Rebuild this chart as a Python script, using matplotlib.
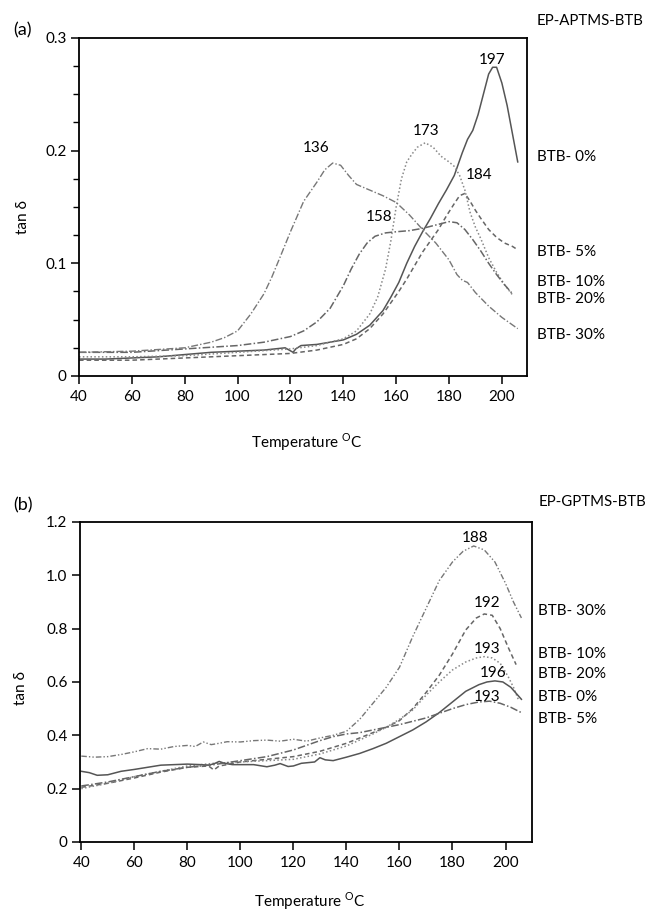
import matplotlib
matplotlib.use("Agg")
import matplotlib.pyplot as plt
import matplotlib.transforms as mtransforms

plt.rcParams["font.family"] = ["Lato", "DejaVu Sans"]
plt.rcParams["mathtext.fontset"] = "custom"
plt.rcParams["mathtext.rm"] = "Lato"

# ---- panel (a): EP-APTMS-BTB ----
a_x0 = [40, 50, 60, 70, 80, 90, 100, 110, 118, 121, 122, 124, 130, 140, 145, 150, 155, 158,
        161, 164, 167, 170, 173, 176, 179, 182, 185, 187, 189, 191, 193, 195, 196.5, 198,
        200, 202, 204, 206]
a_y0 = [0.015, 0.015, 0.016, 0.017, 0.019, 0.021, 0.022, 0.023, 0.025, 0.021, 0.024, 0.027,
        0.028, 0.032, 0.037, 0.045, 0.058, 0.070, 0.083, 0.100, 0.115, 0.128, 0.140, 0.153,
        0.165, 0.178, 0.198, 0.210, 0.218, 0.232, 0.250, 0.268, 0.274, 0.274, 0.260, 0.240,
        0.215, 0.190]

a_x5 = [40, 60, 80, 100, 120, 130, 140, 145, 150, 155, 158, 161, 164, 167, 170, 173, 176, 179,
        182, 184, 186, 188, 190, 192, 195, 198, 201, 204, 206]
a_y5 = [0.014, 0.014, 0.016, 0.018, 0.020, 0.023, 0.028, 0.033, 0.042, 0.055, 0.065, 0.075,
        0.086, 0.098, 0.110, 0.120, 0.130, 0.142, 0.153, 0.160, 0.162, 0.155, 0.147, 0.140,
        0.130, 0.123, 0.118, 0.115, 0.112]

a_x10 = [40, 60, 80, 100, 120, 130, 140, 145, 150, 153, 156, 158, 160, 162, 164, 166, 168, 171,
         174, 177, 180, 182, 184, 186, 188, 190, 192, 195, 198, 201, 204]
a_y10 = [0.017, 0.017, 0.018, 0.021, 0.024, 0.027, 0.033, 0.040, 0.055, 0.070, 0.095, 0.120,
         0.150, 0.175, 0.190, 0.197, 0.203, 0.207, 0.203, 0.195, 0.190, 0.186, 0.178, 0.165,
         0.145, 0.132, 0.122, 0.105, 0.092, 0.081, 0.072]

a_x20 = [40, 60, 80, 100, 110, 120, 125, 130, 135, 140, 143, 146, 149, 152, 156, 160, 165, 170,
         175, 180, 183, 186, 189, 192, 195, 198, 201, 204]
a_y20 = [0.021, 0.021, 0.024, 0.027, 0.030, 0.035, 0.040, 0.048, 0.060, 0.080, 0.095, 0.108,
         0.118, 0.124, 0.127, 0.128, 0.129, 0.131, 0.134, 0.137, 0.136, 0.130, 0.121, 0.111,
         0.100, 0.090, 0.081, 0.073]

a_x30 = [40, 60, 80, 90, 95, 100, 105, 110, 113, 116, 120, 125, 130, 133, 136, 139, 142, 145,
         150, 155, 160, 165, 170, 175, 180, 183, 185, 187, 190, 195, 200, 206]
a_y30 = [0.021, 0.022, 0.025, 0.030, 0.034, 0.040, 0.055, 0.073, 0.088, 0.105, 0.128, 0.155,
         0.172, 0.183, 0.189, 0.187, 0.178, 0.170, 0.165, 0.160, 0.154, 0.143, 0.130, 0.118,
         0.103, 0.090, 0.085, 0.083, 0.074, 0.062, 0.052, 0.042]

# ---- panel (b): EP-GPTMS-BTB ----
b_x0 = [40, 43, 46, 50, 55, 60, 65, 70, 75, 80, 85, 88, 90, 92, 94, 97, 100, 105, 110, 113,
        115, 118, 120, 123, 126, 128, 130, 132, 135, 140, 145, 150, 155, 160, 165, 170, 175,
        180, 185, 190, 193, 196, 199, 202, 206]
b_y0 = [0.265, 0.260, 0.250, 0.252, 0.265, 0.272, 0.280, 0.288, 0.290, 0.292, 0.290, 0.288,
        0.293, 0.302, 0.295, 0.290, 0.290, 0.290, 0.282, 0.288, 0.294, 0.283, 0.285, 0.295,
        0.298, 0.300, 0.316, 0.308, 0.305, 0.318, 0.332, 0.350, 0.370, 0.395, 0.420, 0.450,
        0.485, 0.525, 0.565, 0.590, 0.600, 0.604, 0.600, 0.580, 0.535]

b_x5 = [40, 50, 60, 70, 80, 90, 100, 110, 120, 130, 135, 140, 145, 150, 160, 170, 180, 185,
        190, 194, 198, 202, 206]
b_y5 = [0.210, 0.225, 0.245, 0.265, 0.280, 0.290, 0.305, 0.320, 0.345, 0.380, 0.395, 0.405,
        0.410, 0.420, 0.440, 0.465, 0.500, 0.515, 0.525, 0.528, 0.520, 0.505, 0.485]

b_x10 = [40, 50, 60, 70, 80, 88, 90, 92, 95, 100, 110, 120, 130, 140, 145, 150, 155, 160, 165,
         170, 175, 180, 185, 189, 192, 195, 198, 201, 204]
b_y10 = [0.205, 0.220, 0.240, 0.262, 0.280, 0.285, 0.270, 0.285, 0.290, 0.300, 0.310, 0.320,
         0.340, 0.370, 0.390, 0.410, 0.430, 0.455, 0.500, 0.560, 0.625, 0.705, 0.795, 0.840,
         0.855, 0.850, 0.800, 0.730, 0.665]

b_x20 = [40, 50, 60, 70, 80, 90, 100, 110, 120, 130, 140, 150, 155, 160, 165, 170, 175, 180,
         185, 189, 192, 195, 198, 201, 203, 205]
b_y20 = [0.200, 0.220, 0.245, 0.265, 0.285, 0.295, 0.300, 0.305, 0.310, 0.330, 0.360, 0.405,
         0.430, 0.460, 0.495, 0.550, 0.600, 0.645, 0.675, 0.690, 0.695, 0.690, 0.670, 0.620,
         0.580, 0.530]

b_x30 = [40, 45, 50, 55, 60, 65, 70, 75, 80, 83, 86, 89, 92, 95, 100, 105, 110, 115, 120, 125,
         130, 135, 140, 145, 150, 155, 160, 165, 170, 175, 180, 184, 188, 192, 196, 200, 203, 206]
b_y30 = [0.322, 0.318, 0.320, 0.328, 0.338, 0.350, 0.348, 0.358, 0.362, 0.358, 0.375, 0.365,
         0.370, 0.376, 0.375, 0.380, 0.382, 0.378, 0.385, 0.378, 0.390, 0.400, 0.415, 0.460,
         0.520, 0.580, 0.655, 0.770, 0.875, 0.980, 1.050, 1.090, 1.110, 1.095, 1.050, 0.970,
         0.900, 0.840]

# peak annotations (temperature label, x, y)
a_peaks = [("197", 196.4, 0.2805), ("173", 171.4, 0.2175), ("184", 191.5, 0.178),
           ("136", 129.8, 0.2024), ("158", 153.6, 0.141)]
b_peaks = [("188", 188.5, 1.14), ("192", 193.0, 0.896), ("193", 193.0, 0.724),
           ("196", 195.3, 0.634), ("193", 193.0, 0.544)]

# right-hand series labels (text, y in data units)
a_names = [("BTB- 0%", 0.194), ("BTB- 5%", 0.110), ("BTB- 10%", 0.0834),
           ("BTB- 20%", 0.0683), ("BTB- 30%", 0.0364)]
b_names = [("BTB- 30%", 0.866), ("BTB- 10%", 0.705), ("BTB- 20%", 0.630),
           ("BTB- 0%", 0.544), ("BTB- 5%", 0.461)]

SOLID = "-"
DASH = (0, (3, 2))
DOT = (0, (1, 1.5))
DASHDOT = (0, (5, 1.5, 1, 1.5))
DASHDOTDOT = (0, (4, 1.5, 1, 1.5, 1, 1.5))
FS = 11


def style_axes(ax, xlim, ylim, yticks, ylabels):
    ax.set_xlim(*xlim)
    ax.set_ylim(*ylim)
    ax.set_xticks(range(40, 201, 20))
    ax.set_yticks(yticks)
    ax.set_yticklabels(ylabels)
    for s in ax.spines.values():
        s.set_linewidth(1.3)
    ax.tick_params(direction="out", length=6, width=1.1, labelsize=FS, pad=3)
    ax.tick_params(axis="x", pad=4)
    ax.set_xlabel("Temperature $^{\\mathregular{O}}$C", fontsize=FS)
    ax.set_ylabel("tan δ", fontsize=FS)


fig = plt.figure(figsize=(6.47, 9.13), dpi=100)

# ---- (a) ----
ax = fig.add_axes([0.1221, 0.5882, 0.6924, 0.3702])
ax.plot(a_x0, a_y0, color="#555555", lw=1.1, ls=SOLID)
ax.plot(a_x5, a_y5, color="#666666", lw=1.1, ls=DASH)
ax.plot(a_x10, a_y10, color="#888888", lw=1.1, ls=DOT)
ax.plot(a_x20, a_y20, color="#666666", lw=1.1, ls=DASHDOT)
ax.plot(a_x30, a_y30, color="#777777", lw=1.0, ls=DASHDOT)
style_axes(ax, (40, 209.5), (0, 0.3), [0, 0.1, 0.2, 0.3], ["0", "0.1", "0.2", "0.3"])
ax.set_yticks([0.025, 0.05, 0.075, 0.125, 0.15, 0.175, 0.225, 0.25, 0.275], minor=True)
ax.tick_params(axis="y", which="minor", direction="out", length=4, width=1.0)
ax.xaxis.set_label_coords(0.509, -0.165)
ax.yaxis.set_label_coords(-0.11, 0.47)
for txt, x, y in a_peaks:
    ax.text(x, y, txt, ha="center", va="center", fontsize=FS)
trans = mtransforms.blended_transform_factory(ax.transAxes, ax.transData)
for txt, y in a_names:
    ax.text(1.022, y, txt, transform=trans, ha="left", va="center", fontsize=FS)
fig.text(537 / 647, 1 - 21 / 913, "EP-APTMS-BTB", ha="left", va="center", fontsize=10.8)
fig.text(23 / 647, 1 - 30 / 913, "(a)", ha="center", va="center", fontsize=13)

# ---- (b) ----
bx = fig.add_axes([0.1236, 0.0778, 0.6987, 0.3505])
bx.plot(b_x30, b_y30, color="#777777", lw=1.0, ls=DASHDOTDOT)
bx.plot(b_x10, b_y10, color="#666666", lw=1.1, ls=DASH)
bx.plot(b_x20, b_y20, color="#888888", lw=1.1, ls=DOT)
bx.plot(b_x0, b_y0, color="#555555", lw=1.1, ls=SOLID)
bx.plot(b_x5, b_y5, color="#666666", lw=1.1, ls=DASHDOT)
style_axes(bx, (39.5, 210), (0, 1.2), [0, 0.2, 0.4, 0.6, 0.8, 1.0, 1.2],
           ["0", "0.2", "0.4", "0.6", "0.8", "1.0", "1.2"])
bx.xaxis.set_label_coords(0.509, -0.15)
bx.yaxis.set_label_coords(-0.115, 0.48)
for txt, x, y in b_peaks:
    bx.text(x, y, txt, ha="center", va="center", fontsize=FS)
trans = mtransforms.blended_transform_factory(bx.transAxes, bx.transData)
for txt, y in b_names:
    bx.text(1.013, y, txt, transform=trans, ha="left", va="center", fontsize=FS)
fig.text(539 / 647, 1 - 502 / 913, "EP-GPTMS-BTB", ha="left", va="center", fontsize=10.8)
fig.text(23 / 647, 1 - 505 / 913, "(b)", ha="center", va="center", fontsize=13)

fig.savefig("out.png", dpi=100)
